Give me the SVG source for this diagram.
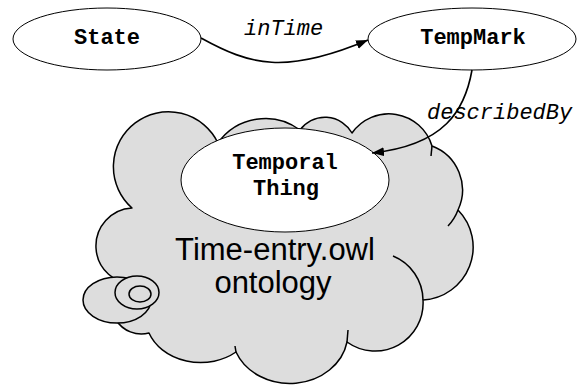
<svg xmlns="http://www.w3.org/2000/svg" width="582" height="385" viewBox="0 0 582 385">
  <style>
    .node { fill: #ffffff; stroke: #000000; stroke-width: 1; }
    .cloud { fill: #dddddd; stroke: #000000; stroke-width: 1.5; stroke-linejoin: round; }
    .stub { fill: none; stroke: #000000; stroke-width: 1.5; }
    .label { font-family: "Liberation Mono", "Courier New", monospace; font-weight: bold; font-size: 22px; fill: #000000; text-anchor: middle; }
    .edge { fill: none; stroke: #000000; stroke-width: 1.6; }
    .edge-label { font-family: "Liberation Mono", "Courier New", monospace; font-style: italic; font-size: 22px; fill: #000000; }
    .big { font-family: "Liberation Sans", Arial, sans-serif; font-size: 31px; fill: #000000; text-anchor: middle; }
  </style>
  <defs>
    <marker id="arrow" markerUnits="userSpaceOnUse" markerWidth="13" markerHeight="10" refX="12" refY="4.5" orient="auto">
      <path d="M0,0 L12,4.5 L0,9 Z" fill="#000000"/>
    </marker>
  </defs>

  <rect width="582" height="385" fill="#ffffff"/>

  <!-- ontology cloud with thought bubbles -->
  <g id="ontology-cloud">
    <path class="cloud" d="M 132 208
      A 55 55 0 1 1 218 143
      A 58 58 0 0 1 300 130
      A 31 31 0 0 1 352 133
      A 45 45 0 0 1 432 146
      A 47 47 0 0 1 458 210
      A 53 53 0 0 1 423 300
      A 48 48 0 0 1 347 342
      A 58 50 0 0 1 236 352
      A 55 45 0 0 1 149 333
      A 30 30 0 0 1 116 320
      L 136 284
      A 38 38 0 0 1 132 208 Z"/>
    <!-- inner arcs where the bumps overlap -->
    <path class="stub" d="M 432 146 L 431 156"/>
    <path class="stub" d="M 458 210 A 47 47 0 0 1 448 226"/>
    <path class="stub" d="M 393 256 A 48 48 0 0 1 423 300"/>
    <path class="stub" d="M 347 342 L 348 330"/>
    <path class="stub" d="M 236 352 L 235 346"/>
    <ellipse class="cloud" cx="117" cy="300" rx="34" ry="23"/>
    <ellipse class="cloud" cx="137" cy="292.5" rx="22" ry="16.5"/>
    <ellipse class="cloud" cx="140" cy="294" rx="11" ry="8"/>
    <text class="big" x="275" y="260">Time-entry.owl</text>
    <text class="big" x="273" y="293">ontology</text>
  </g>

  <g id="node-temporal-thing">
    <ellipse class="node" cx="285" cy="180" rx="104" ry="52"/>
    <text class="label" x="285" y="169">Temporal</text>
    <text class="label" x="286" y="195">Thing</text>
  </g>

  <g id="node-state">
    <ellipse class="node" cx="107" cy="39" rx="94" ry="31"/>
    <text class="label" x="107" y="44">State</text>
  </g>

  <g id="node-tempmark">
    <ellipse class="node" cx="472" cy="39" rx="104" ry="31"/>
    <text class="label" x="473" y="44">TempMark</text>
  </g>

  <g id="connectors">
    <path class="edge" d="M 201 38 C 250 65 285 75 368 40" marker-end="url(#arrow)"/>
    <path class="edge" d="M 472 70 C 465 110 445 145 372 153" marker-end="url(#arrow)"/>
    <text class="edge-label" x="244" y="35">inTime</text>
    <text class="edge-label" x="427" y="119">describedBy</text>
  </g>
</svg>
